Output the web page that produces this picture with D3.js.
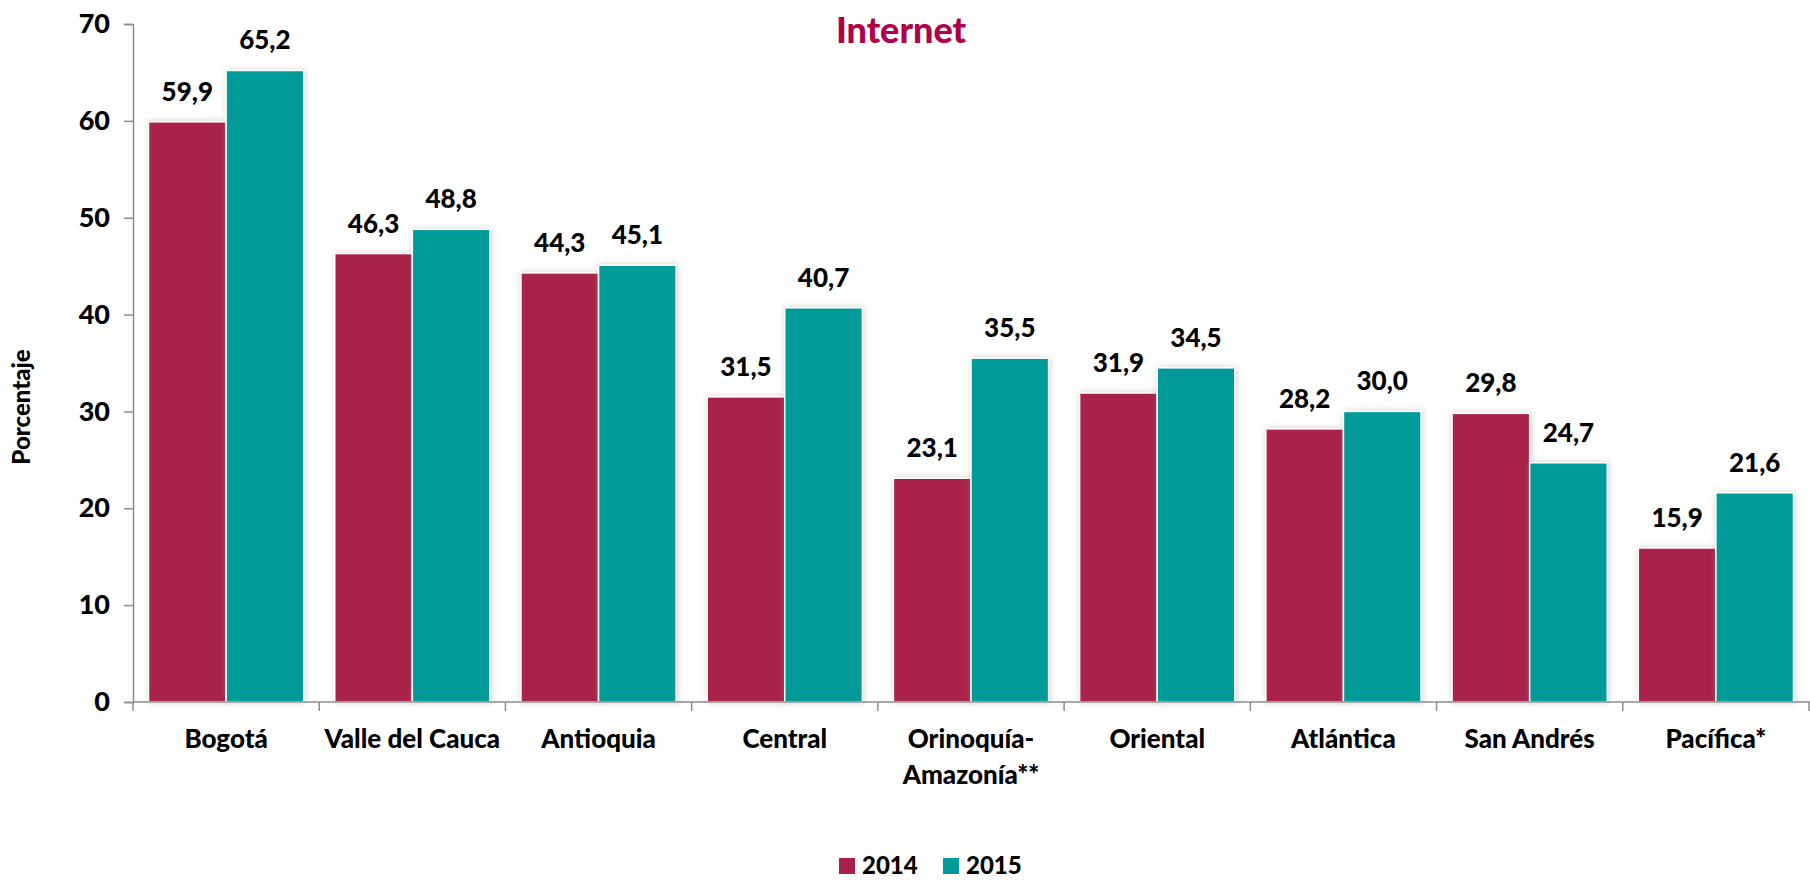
<!DOCTYPE html>
<html>
<head>
<meta charset="utf-8">
<script src="https://cdn.jsdelivr.net/npm/d3@7"></script>
<style>
  body { margin: 0; background: #fff; }
  text { font-family: Lato, "Open Sans", sans-serif; font-weight: 900; }
</style>
</head>
<body>
<div id="chart"></div>
<script>
const regions = ["Bogotá", "Valle del Cauca", "Antioquia", "Central", "Orinoquía-\nAmazonía**",
                 "Oriental", "Atlántica", "San Andrés", "Pacífica*"];
const years = ["2014", "2015"];
const values2014 = [59.9, 46.3, 44.3, 31.5, 23.1, 31.9, 28.2, 29.8, 15.9];
const values2015 = [65.2, 48.8, 45.1, 40.7, 35.5, 34.5, 30.0, 24.7, 21.6];
const yTicks = [0, 10, 20, 30, 40, 50, 60, 70];
const colors = ["#a8214a", "#009a98"];

const width = 1810,
      height = 880,
      margin = ({ top: 24, right: 0, bottom: 178, left: 133 });

let data = regions.map((r, i) => ({ region: r, vals: [values2014[i], values2015[i]] }));

let svg = d3.select("#chart")
    .append("svg")
    .attr("width", width)
    .attr("height", height);

// soft grey shadow behind bars
let defs = svg.append("defs");
let f = defs.append("filter").attr("id", "shadow")
    .attr("x", "-20%").attr("y", "-5%").attr("width", "140%").attr("height", "110%");
f.append("feDropShadow")
    .attr("dx", 1).attr("dy", 0).attr("stdDeviation", 3)
    .attr("flood-color", "#999").attr("flood-opacity", 0.45);

let x0 = d3.scaleBand()
    .domain(regions)
    .range([margin.left, width - 1])
    .padding(0);

let x1 = d3.scaleBand()
    .domain(years)
    .range([0, x0.bandwidth()])
    .paddingOuter(0.2);

let y = d3.scaleLinear()
    .domain([0, 70])
    .range([height - margin.bottom, margin.top]);

// y axis
let yAxis = svg.append("g")
    .attr("transform", `translate(${margin.left},0)`)
    .call(d3.axisLeft(y).tickValues(yTicks).tickSize(9).tickPadding(14));
yAxis.select(".domain").attr("stroke", "#8c8c8c").attr("stroke-width", 1.5);
yAxis.selectAll(".tick line").attr("stroke", "#8c8c8c").attr("stroke-width", 1.5);
yAxis.selectAll(".tick text")
    .style("font-size", "27px")
    .attr("fill", "#000");

// bars
let group = svg.selectAll(".grp")
    .data(data)
    .join("g")
    .attr("class", "grp")
    .attr("transform", d => `translate(${x0(d.region)},0)`);

group.selectAll("rect")
    .data(d => d.vals.map((v, i) => ({ year: years[i], value: v, i: i })))
    .join("rect")
    .attr("x", d => x1(d.year))
    .attr("width", x1.bandwidth())
    .attr("y", d => y(d.value))
    .attr("height", d => y(0) - y(d.value))
    .attr("fill", d => colors[d.i])
    .attr("stroke", "#fff")
    .attr("stroke-width", 1.5)
    .attr("filter", "url(#shadow)");

group.selectAll(".lbl")
    .data(d => d.vals.map((v, i) => ({ year: years[i], value: v })))
    .join("text")
    .attr("class", "lbl")
    .attr("x", d => x1(d.year) + x1.bandwidth() / 2)
    .attr("y", d => y(d.value) - 21)
    .attr("text-anchor", "middle")
    .style("font-size", "26px")
    .text(d => d.value.toFixed(1).replace(".", ","));

// x axis
let xAxis = svg.append("g")
    .attr("transform", `translate(0,${y(0)})`);
xAxis.append("line")
    .attr("x1", margin.left).attr("x2", width)
    .attr("stroke", "#8c8c8c").attr("stroke-width", 1.5);
xAxis.selectAll(".xt")
    .data(regions.concat(["end"]))
    .join("line")
    .attr("class", "xt")
    .attr("x1", (d, i) => margin.left + i * x0.step())
    .attr("x2", (d, i) => margin.left + i * x0.step())
    .attr("y1", 0).attr("y2", 9)
    .attr("stroke", "#8c8c8c").attr("stroke-width", 1.5);

svg.selectAll(".cat")
    .data(regions)
    .join("text")
    .attr("class", "cat")
    .attr("text-anchor", "middle")
    .style("font-size", "26px")
    .attr("x", d => x0(d) + x0.bandwidth() / 2)
    .attr("y", y(0) + 46)
    .selectAll("tspan")
    .data(d => d.split("\n"))
    .join("tspan")
    .attr("x", function() { return d3.select(this.parentNode).attr("x"); })
    .attr("dy", (d, i) => i === 0 ? 0 : 36)
    .text(d => d);

// y axis title
svg.append("text")
    .attr("transform", "translate(30,407) rotate(-90)")
    .attr("text-anchor", "middle")
    .style("font-size", "24px")
    .text("Porcentaje");

// title
svg.append("text")
    .attr("x", 901)
    .attr("y", 43)
    .attr("text-anchor", "middle")
    .style("font-size", "36px")
    .attr("fill", "#b0004a")
    .text("Internet");

// legend
let legend = svg.append("g")
    .attr("transform", "translate(839,859)");
let item = legend.selectAll("g")
    .data(years)
    .join("g")
    .attr("transform", (d, i) => `translate(${i * 104},0)`);
item.append("rect")
    .attr("width", 16).attr("height", 16)
    .attr("y", -1)
    .attr("fill", (d, i) => colors[i]);
item.append("text")
    .attr("x", 23)
    .attr("y", 15)
    .style("font-size", "24px")
    .text(d => d);
</script>
</body>
</html>
